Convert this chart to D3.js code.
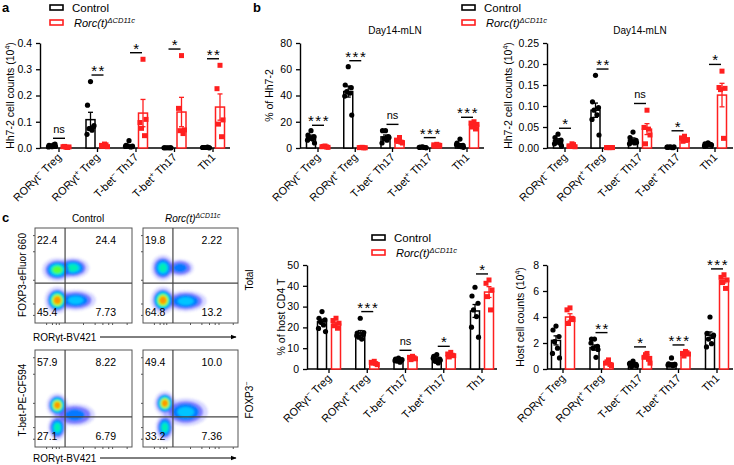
<!DOCTYPE html>
<html>
<head>
<meta charset="utf-8">
<script src="https://cdn.jsdelivr.net/npm/d3@7"></script>
<style>
  body { margin: 0; background: #fff; }
  svg { font-family: "Liberation Sans", Arial, sans-serif; }
</style>
</head>
<body>
<div id="fig"></div>
<script>
// ---- data ----
const groups = [["RORγt", "−", " Treg"], ["RORγt", "+", " Treg"], ["T-bet", "−", " Th17"], ["T-bet", "+", " Th17"], ["Th1", "", ""]];

// a: Hh7-2 cell counts (10^4)
const aCtrlMean = [0.008, 0.108, 0.008, 0.001, 0.002];
const aCtrlSem = [0.002, 0.028, 0.003, 0.0005, 0.0005];
const aKoMean = [0.004, 0.009, 0.133, 0.137, 0.156];
const aKoSem = [0.001, 0.002, 0.052, 0.056, 0.05];
const aCtrlDots = [[0.005, 0.01, 0.015, 0.008, 0.012, 0.004, 0.006], [0.253, 0.163, 0.081, 0.074, 0.068, 0.052, 0.085], [0.028, 0.01, 0.005, 0.008, 0.004, 0.006, 0.007], [0.001, 0.001, 0.001, 0.001, 0.001, 0.001, 0.001], [0.002, 0.002, 0.001, 0.002, 0.003, 0.002, 0.001]];
const aKoDots = [[0.003, 0.005, 0.004, 0.006, 0.002], [0.015, 0.01, 0.005, 0.008, 0.012], [0.338, 0.097, 0.109, 0.075, 0.047], [0.352, 0.151, 0.069, 0.066, 0.055], [0.315, 0.226, 0.107, 0.091, 0.043]];
const aSig = ["ns", "**", "*", "*", "**"];
const aSigY = [0.037, 0.278, 0.363, 0.377, 0.34];

// b left: % of Hh7-2
const bLCtrlMean = [8.6, 43, 8.5, 0.5, 2.5];
const bLCtrlSem = [1.2, 4.2, 1.4, 0.2, 0.8];
const bLKoMean = [1.0, 0.3, 5.5, 2.2, 17.4];
const bLKoSem = [0.2, 0.1, 0.8, 0.3, 1.0];
const bLCtrlDots = [[13.2, 9.9, 8.6, 7.5, 6.8, 6, 3.8], [62, 48, 46, 43, 41.7, 39.6, 25.1], [13.2, 13.2, 8.6, 7, 6, 3.8, 8], [0.8, 0.5, 0.3, 0.6, 0.4, 0.5, 0.2], [6.8, 3.8, 2, 1.5, 1, 2.5, 0.5]];
const bLKoDots = [[1.5, 1, 0.5, 1.2, 0.8], [0.5, 0.3, 0.2, 0.4, 0.1], [8, 6, 3.8, 5, 4.5], [2.8, 2.4, 2, 1.8, 2.2], [20, 19, 18, 16, 14.5]];
const bLSig = ["***", "***", "ns", "***", "***"];
const bLSigY = [17.3, 66.5, 18, 7.9, 23.4];

// b right: Hh7-2 cell counts (10^4)
const bRCtrlMean = [0.018, 0.090, 0.019, 0.002, 0.008];
const bRCtrlSem = [0.004, 0.017, 0.005, 0.0005, 0.0015];
const bRKoMean = [0.006, 0.001, 0.045, 0.02, 0.126];
const bRKoSem = [0.0015, 0.0003, 0.013, 0.002, 0.028];
const bRCtrlDots = [[0.033, 0.025, 0.019, 0.015, 0.012, 0.01, 0.005], [0.173, 0.11, 0.096, 0.09, 0.079, 0.068, 0.031], [0.038, 0.025, 0.018, 0.015, 0.012, 0.01, 0.013], [0.003, 0.002, 0.001, 0.002, 0.001, 0.002, 0.003], [0.012, 0.01, 0.008, 0.006, 0.009, 0.005, 0.007]];
const bRKoDots = [[0.01, 0.005, 0.003, 0.004, 0.008], [0.001, 0.001, 0.001, 0.001, 0.001], [0.09, 0.049, 0.031, 0.01, 0.045], [0.028, 0.024, 0.02, 0.016, 0.018], [0.183, 0.144, 0.142, 0.139, 0.023]];
const bRSig = ["*", "**", "ns", "*", "*"];
const bRSigY = [0.047, 0.188, 0.106, 0.041, 0.199];

// c middle: % of host CD4 T
const cMCtrlMean = [22.7, 17.3, 4.2, 4.8, 27.9];
const cMCtrlSem = [1.2, 1.2, 0.3, 0.6, 3.1];
const cMKoMean = [21.6, 2.9, 5.3, 6.4, 37];
const cMKoSem = [0.9, 0.3, 0.4, 0.4, 2.6];
const cMCtrlDots = [[27.6, 24.4, 23.6, 22.7, 21.2, 19.5, 18], [24.4, 17.3, 16.5, 15.3, 14.4, 16, 17.5], [5.3, 4.8, 4.2, 3.8, 3.3, 4, 4.5], [6.9, 6.1, 4.8, 3.7, 2.9, 5.2, 4.2], [39.3, 35.1, 31.6, 28.4, 25.2, 20.1, 15.3]];
const cMKoDots = [[24.4, 23.3, 22, 20.8, 19.6], [3.7, 3.2, 2.1, 2.8, 2.6], [6.1, 5.6, 4.9, 4.5, 5.4], [8, 7.2, 6.4, 5.8, 6.6], [42.8, 41.2, 38, 34.8, 28.4]];
const cMSig = [null, "***", "ns", "*", "*"];
const cMSigY = [null, 27.6, 9, 10.9, 45.7];

// c right: Host cell counts (10^4)
const cRCtrlMean = [2.2, 1.65, 0.35, 0.4, 2.6];
const cRCtrlSem = [0.35, 0.2, 0.06, 0.08, 0.25];
const cRKoMean = [4.0, 0.45, 0.95, 1.2, 6.8];
const cRKoSem = [0.25, 0.08, 0.14, 0.06, 0.18];
const cRCtrlDots = [[3.3, 3.0, 2.5, 2.1, 1.6, 1.2, 0.85], [2.3, 2.3, 1.75, 1.6, 0.9, 2.0, 1.5], [0.6, 0.45, 0.35, 0.2, 0.3, 0.4, 0.25], [0.85, 0.4, 0.35, 0.3, 0.25, 0.3, 0.35], [4.0, 2.75, 2.5, 2.3, 1.95, 1.7, 2.6]];
const cRKoDots = [[4.7, 4.55, 3.8, 3.5, 3.9], [0.7, 0.45, 0.25, 0.55, 0.35], [1.2, 0.9, 0.45, 1.1, 0.75], [1.35, 1.2, 1.15, 1.0, 1.25], [7.25, 7.05, 6.85, 6.65, 6.2]];
const cRSig = [null, "**", "*", "***", "***"];
const cRSigY = [null, 2.8, 1.7, 1.85, 7.7];

// flow plots: quadrant frequencies [UL, UR, LL, LR]
const flowQuads = [["22.4", "24.4", "45.4", "7.73"], ["19.8", "2.22", "64.8", "13.2"], ["57.9", "8.22", "27.1", "6.79"], ["49.4", "10.0", "33.2", "7.36"]];
// density populations per plot: [x, y, rx, ry, levels] in axis fractions
const flowPops = [
  [[0.42, 0.24, 0.16, 0.085, 3], [0.39, 0.58, 0.13, 0.085, 4], [0.23, 0.56, 0.12, 0.095, 5], [0.23, 0.24, 0.10, 0.11, 7]],
  [[0.39, 0.58, 0.11, 0.07, 2], [0.45, 0.23, 0.17, 0.085, 3], [0.21, 0.58, 0.095, 0.105, 4], [0.21, 0.24, 0.10, 0.11, 7]],
  [[0.41, 0.33, 0.16, 0.09, 2], [0.23, 0.2, 0.075, 0.1, 4], [0.23, 0.43, 0.085, 0.095, 7]],
  [[0.45, 0.36, 0.18, 0.11, 3], [0.23, 0.2, 0.075, 0.105, 4], [0.23, 0.45, 0.085, 0.095, 7]]
];

// ---- canvas ----
const width = 734, height = 465;
const RED = "#ff1f1f";
const svg = d3.select("#fig").append("svg")
  .attr("width", width)
  .attr("height", height)
  .attr("viewBox", [0, 0, width, height]);

const defs = svg.append("defs");
defs.append("filter").attr("id", "soft")
  .attr("x", "-50%").attr("y", "-50%").attr("width", "200%").attr("height", "200%")
  .append("feGaussianBlur").attr("stdDeviation", 1.2);

// panel letters
[["a", 2, 12], ["b", 253, 12], ["c", 2, 222]].forEach(([t, x, y]) =>
  svg.append("text").attr("x", x).attr("y", y).attr("font-size", 13).attr("font-weight", "bold").text(t));

function koLabel(sel, size) {
  sel.append("tspan").attr("font-style", "italic").text("Rorc(t)");
  sel.append("tspan").attr("font-style", "italic").attr("font-size", size * 0.68).attr("dy", -size * 0.38).text("ΔCD11c");
}

function legend(x, y) {
  const g = svg.append("g").attr("transform", `translate(${x},${y})`);
  g.append("rect").attr("x", 0).attr("y", -3).attr("width", 13).attr("height", 5)
    .attr("fill", "#fff").attr("stroke", "#000").attr("stroke-width", 1.6);
  g.append("text").attr("x", 22).attr("y", 4).attr("font-size", 11.5).text("Control");
  g.append("rect").attr("x", 0).attr("y", 12).attr("width", 13).attr("height", 5)
    .attr("fill", "#fff").attr("stroke", RED).attr("stroke-width", 1.6);
  koLabel(g.append("text").attr("x", 24).attr("y", 19).attr("font-size", 11), 11);
}

const jitter = [0, -3, 3, -1.5, 1.5, -3.5, 3.5];

function barPanel(p) {
  const g = svg.append("g");
  const y = d3.scaleLinear().domain([0, p.max]).range([p.yb, p.yt]);
  const x = d3.scalePoint().domain(d3.range(groups.length)).range([p.c0, p.c4]);
  const off = 7, bw = 9;

  // y axis
  const ya = g.append("g").attr("transform", `translate(${p.ax},0)`)
    .call(d3.axisLeft(y).tickValues(d3.range(0, p.max + p.step / 2, p.step)).tickFormat(d3.format(p.fmt)).tickSize(4).tickSizeOuter(0));
  ya.select(".domain").attr("stroke-width", 1.4);
  ya.selectAll(".tick line").attr("stroke-width", 1.3);
  ya.selectAll(".tick text").attr("font-size", 10.5).attr("font-family", null).attr("fill", "#000").attr("dx", -1);

  // x axis
  g.append("line").attr("x1", p.ax).attr("x2", p.end).attr("y1", p.yb).attr("y2", p.yb)
    .attr("stroke", "#000").attr("stroke-width", 1.4);
  g.selectAll(".xt").data(groups).join("line")
    .attr("x1", (d, i) => x(i)).attr("x2", (d, i) => x(i))
    .attr("y1", p.yb).attr("y2", p.yb + 4).attr("stroke", "#000").attr("stroke-width", 1.3);
  const lab = g.selectAll(".xl").data(groups).join("text")
    .attr("font-size", 11).attr("text-anchor", "end")
    .attr("transform", (d, i) => `translate(${x(i) + 3},${p.yb + 10}) rotate(-45)`);
  lab.each(function (d) {
    const t = d3.select(this);
    t.append("tspan").text(d[0]);
    if (d[1]) t.append("tspan").attr("font-size", 7.5).attr("dy", -4).text(d[1]);
    if (d[2]) t.append("tspan").attr("dy", d[1] ? 4 : 0).text(d[2]);
  });

  // y label
  const yl = g.append("text").attr("font-size", 10.5).attr("text-anchor", "middle")
    .attr("transform", `translate(${p.lx},${(p.yb + p.yt) / 2}) rotate(-90)`);
  yl.append("tspan").text(p.label);
  if (p.sup) {
    yl.append("tspan").text(" (10");
    yl.append("tspan").attr("font-size", 7).attr("dy", -4).text("4");
    yl.append("tspan").attr("dy", 4).text(")");
  }
  if (p.title) g.append("text").attr("x", p.tx).attr("y", p.yt - 9).attr("font-size", 10)
    .attr("text-anchor", "middle").text(p.title);

  const series = [
    { mean: p.ctrlMean, sem: p.ctrlSem, dots: p.ctrlDots, color: "#000", dx: -off, sq: false },
    { mean: p.koMean, sem: p.koSem, dots: p.koDots, color: RED, dx: off, sq: true }
  ];
  series.forEach(s => {
    const sg = g.append("g");
    sg.selectAll("rect").data(s.mean).join("rect")
      .attr("x", (d, i) => x(i) + s.dx - bw / 2).attr("width", bw)
      .attr("y", d => y(d)).attr("height", d => p.yb - y(d))
      .attr("fill", "#fff").attr("stroke", s.color).attr("stroke-width", 1.5);
    // error bars (mean ± SEM)
    s.mean.forEach((m, i) => {
      const cx = x(i) + s.dx, lo = y(Math.max(0, m - s.sem[i])), hi = y(m + s.sem[i]);
      sg.append("line").attr("x1", cx).attr("x2", cx).attr("y1", lo).attr("y2", hi).attr("stroke", s.color).attr("stroke-width", 1.3);
      [lo, hi].forEach(v => sg.append("line").attr("x1", cx - 2.5).attr("x2", cx + 2.5).attr("y1", v).attr("y2", v)
        .attr("stroke", s.color).attr("stroke-width", 1.3));
    });
    // points
    s.dots.forEach((arr, i) => {
      arr.forEach((v, j) => {
        const cx = x(i) + s.dx + jitter[j % jitter.length], cy = y(v);
        if (s.sq) sg.append("rect").attr("x", cx - 2.5).attr("y", cy - 2.5).attr("width", 5).attr("height", 5).attr("fill", s.color);
        else sg.append("circle").attr("cx", cx).attr("cy", cy).attr("r", 2.6).attr("fill", s.color);
      });
    });
  });

  // significance
  p.sig.forEach((s, i) => {
    if (!s) return;
    const yy = y(p.sigY[i]);
    g.append("line").attr("x1", x(i) - 6).attr("x2", x(i) + 6).attr("y1", yy).attr("y2", yy)
      .attr("stroke", "#000").attr("stroke-width", 1.4);
    if (s === "ns") g.append("text").attr("x", x(i)).attr("y", yy - 5).attr("font-size", 11).attr("text-anchor", "middle").text("ns");
    else g.append("text").attr("x", x(i) + 1).attr("y", yy + 1).attr("font-size", 15).attr("letter-spacing", 1.5)
      .attr("text-anchor", "middle").text(s);
  });
}

barPanel({ ax: 40, c0: 59, c4: 213, end: 230, yb: 148, yt: 43, max: 0.4, step: 0.1, fmt: ".1f",
  ctrlMean: aCtrlMean, ctrlSem: aCtrlSem, koMean: aKoMean, koSem: aKoSem, ctrlDots: aCtrlDots, koDots: aKoDots,
  sig: aSig, sigY: aSigY, label: "Hh7-2 cell counts", sup: true, lx: 14 });
barPanel({ ax: 300, c0: 318, c4: 467, end: 484, yb: 148, yt: 43, max: 80, step: 20, fmt: "d",
  ctrlMean: bLCtrlMean, ctrlSem: bLCtrlSem, koMean: bLKoMean, koSem: bLKoSem, ctrlDots: bLCtrlDots, koDots: bLKoDots,
  sig: bLSig, sigY: bLSigY, label: "% of Hh7-2", sup: false, lx: 273, title: "Day14-mLN", tx: 395 });
barPanel({ ax: 547, c0: 565, c4: 715, end: 733, yb: 148, yt: 43, max: 0.25, step: 0.05, fmt: ".2f",
  ctrlMean: bRCtrlMean, ctrlSem: bRCtrlSem, koMean: bRKoMean, koSem: bRKoSem, ctrlDots: bRCtrlDots, koDots: bRKoDots,
  sig: bRSig, sigY: bRSigY, label: "Hh7-2 cell counts", sup: true, lx: 512, title: "Day14-mLN", tx: 640 });
barPanel({ ax: 307, c0: 329, c4: 482, end: 497, yb: 369, yt: 265, max: 50, step: 10, fmt: "d",
  ctrlMean: cMCtrlMean, ctrlSem: cMCtrlSem, koMean: cMKoMean, koSem: cMKoSem, ctrlDots: cMCtrlDots, koDots: cMKoDots,
  sig: cMSig, sigY: cMSigY, label: "% of host CD4 T", sup: false, lx: 285 });
barPanel({ ax: 547, c0: 563, c4: 717, end: 733, yb: 369, yt: 265, max: 8, step: 2, fmt: "d",
  ctrlMean: cRCtrlMean, ctrlSem: cRCtrlSem, koMean: cRKoMean, koSem: cRKoSem, ctrlDots: cRCtrlDots, koDots: cRKoDots,
  sig: cRSig, sigY: cRSigY, label: "Host cell counts", sup: true, lx: 524 });

legend(50, 8);
legend(462, 8);
legend(372, 238);

// ---- flow plots ----
const jet = ["#3030ff", "#0078ff", "#00c8ff", "#00f0b0", "#60ff30", "#e8f000", "#ff9000", "#ff1800"];
const frames = [
  { x0: 35, x1: 132, y0: 228, y1: 323, gx: 0.31, gy: 0.42 },
  { x0: 143, x1: 238, y0: 228, y1: 323, gx: 0.315, gy: 0.42 },
  { x0: 35, x1: 132, y0: 350, y1: 447, gx: 0.31, gy: 0.31 },
  { x0: 143, x1: 238, y0: 350, y1: 447, gx: 0.315, gy: 0.31 }
];
frames.forEach((f, k) => {
  const fx = d3.scaleLinear().domain([0, 1]).range([f.x0, f.x1]);
  const fy = d3.scaleLinear().domain([0, 1]).range([f.y1, f.y0]);
  const g = svg.append("g");
  const clipId = "clip" + k;
  defs.append("clipPath").attr("id", clipId).append("rect")
    .attr("x", f.x0).attr("y", f.y0).attr("width", f.x1 - f.x0).attr("height", f.y1 - f.y0);
  const dens = g.append("g").attr("clip-path", `url(#${clipId})`).append("g").attr("filter", "url(#soft)");
  // sparse halo first, then density levels
  flowPops[k].forEach(([px, py, rx, ry]) => {
    dens.append("ellipse").attr("cx", fx(px)).attr("cy", fy(py))
      .attr("rx", (fx(rx) - fx(0)) * 1.3).attr("ry", (fy(0) - fy(ry)) * 1.3)
      .attr("fill", "#4a4aff").attr("opacity", 0.22);
  });
  flowPops[k].forEach(([px, py, rx, ry, lv]) => {
    for (let l = 0; l < lv; l++) {
      const s = 1 - l / lv * 0.75;
      dens.append("ellipse")
        .attr("cx", fx(px)).attr("cy", fy(py))
        .attr("rx", (fx(rx) - fx(0)) * s).attr("ry", (fy(0) - fy(ry)) * s)
        .attr("fill", jet[l]).attr("opacity", l === 0 ? 0.55 : 0.95);
    }
  });
  g.append("rect").attr("x", f.x0).attr("y", f.y0).attr("width", f.x1 - f.x0).attr("height", f.y1 - f.y0)
    .attr("fill", "none").attr("stroke", "#555").attr("stroke-width", 1);
  g.append("line").attr("x1", fx(f.gx)).attr("x2", fx(f.gx)).attr("y1", f.y0).attr("y2", f.y1).attr("stroke", "#444").attr("stroke-width", 1.2);
  g.append("line").attr("x1", f.x0).attr("x2", f.x1).attr("y1", fy(f.gy)).attr("y2", fy(f.gy)).attr("stroke", "#444").attr("stroke-width", 1.2);
  // frame ticks
  [0.08, 0.2, 0.45, 0.75, 0.92].forEach(t => g.append("line").attr("x1", f.x0 - 2).attr("x2", f.x0).attr("y1", fy(t)).attr("y2", fy(t)).attr("stroke", "#555"));
  [0.12, 0.18, 0.22, 0.25, 0.5, 0.62, 0.7, 0.76, 0.8, 0.95].forEach(t => g.append("line").attr("x1", fx(t)).attr("x2", fx(t)).attr("y1", f.y1).attr("y2", f.y1 + 2).attr("stroke", "#555"));
  const q = flowQuads[k];
  g.append("text").attr("x", f.x0 + 2).attr("y", f.y0 + 16).attr("font-size", 10.5).text(q[0]);
  g.append("text").attr("x", f.x1 - 16).attr("y", f.y0 + 16).attr("font-size", 10.5).attr("text-anchor", "end").text(q[1]);
  g.append("text").attr("x", f.x0 + 2).attr("y", f.y1 - 7).attr("font-size", 10.5).text(q[2]);
  g.append("text").attr("x", f.x1 - 16).attr("y", f.y1 - 7).attr("font-size", 10.5).attr("text-anchor", "end").text(q[3]);
});

// flow labels
svg.append("text").attr("x", 88).attr("y", 222).attr("font-size", 10).attr("text-anchor", "middle").text("Control");
koLabel(svg.append("text").attr("x", 165).attr("y", 222).attr("font-size", 10), 10);
defs.append("marker").attr("id", "arr").attr("viewBox", "0 0 10 10").attr("refX", 9).attr("refY", 5)
  .attr("markerWidth", 6).attr("markerHeight", 6).attr("orient", "auto")
  .append("path").attr("d", "M0,1L10,5L0,9Z").attr("fill", "#000");
[341, 462].forEach(yb => {
  svg.append("text").attr("x", 33).attr("y", yb).attr("font-size", 10).text("RORγt-BV421");
  svg.append("line").attr("x1", 100).attr("x2", 236).attr("y1", yb - 4).attr("y2", yb - 4)
    .attr("stroke", "#000").attr("stroke-width", 1).attr("marker-end", "url(#arr)");
});
svg.append("text").attr("font-size", 10).attr("text-anchor", "middle")
  .attr("transform", "translate(26,275) rotate(-90)").text("FOXP3-eFluor 660");
svg.append("text").attr("font-size", 10).attr("text-anchor", "middle")
  .attr("transform", "translate(26,400) rotate(-90)").text("T-bet-PE-CF594");
svg.append("text").attr("font-size", 10).attr("text-anchor", "middle")
  .attr("transform", "translate(253,280) rotate(-90)").text("Total");
const fx3 = svg.append("text").attr("font-size", 10).attr("text-anchor", "middle")
  .attr("transform", "translate(253,400) rotate(-90)");
fx3.append("tspan").text("FOXP3");
fx3.append("tspan").attr("font-size", 7).attr("dy", -4).text("−");
</script>
</body>
</html>
